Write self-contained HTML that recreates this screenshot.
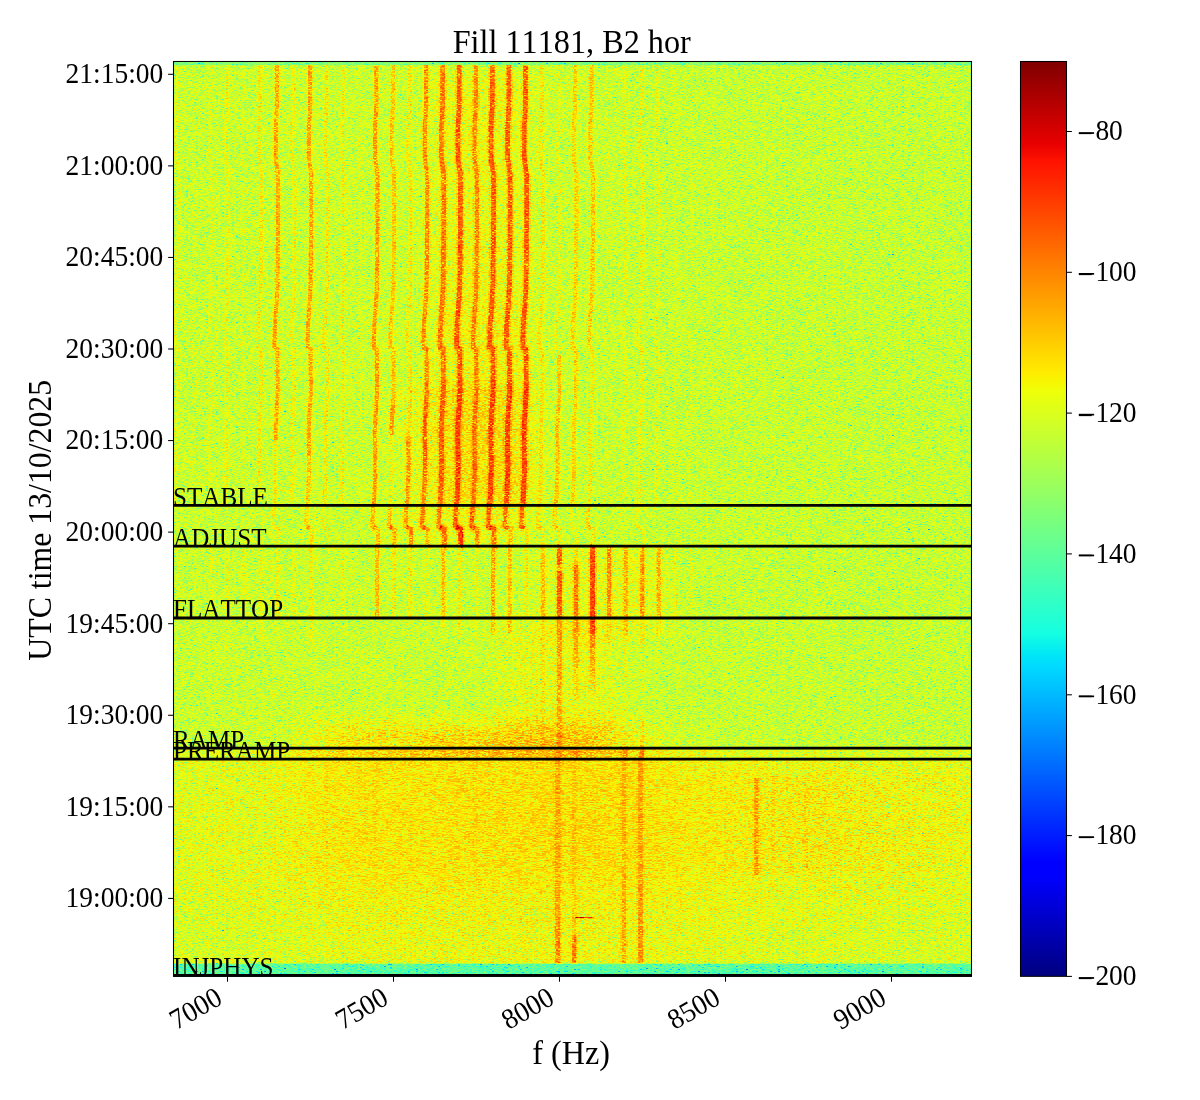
<!DOCTYPE html>
<html><head><meta charset="utf-8"><title>Fill 11181, B2 hor</title>
<style>
html,body{margin:0;padding:0;background:#fff;}
svg{display:block}
text{font-family:"Liberation Serif","DejaVu Serif",serif;fill:#000;font-kerning:none}
.t{font-size:27.78px}
.l{font-size:32.4px}
.e{font-size:24.6px}
</style></head><body>
<svg width="1200" height="1100" viewBox="0 0 1200 1100">
<defs>
<clipPath id="axclip"><rect x="173.5" y="61.5" width="798.0" height="914.8"/></clipPath>
<filter id="noise" x="172" y="60" width="802" height="918" filterUnits="userSpaceOnUse" primitiveUnits="userSpaceOnUse" color-interpolation-filters="sRGB">
<feTurbulence type="fractalNoise" baseFrequency="0.809 1.618" numOctaves="1" seed="3" result="n1"/>
<feTurbulence type="fractalNoise" baseFrequency="0.707 1.414" numOctaves="1" seed="11" result="n2"/>
<feComposite in="n1" in2="n2" operator="arithmetic" k1="0" k2="0.5" k3="0.5" k4="0" result="n"/>
<feColorMatrix in="n" type="matrix" values="1 0 0 0 0  1 0 0 0 0  1 0 0 0 0  0 0 0 0 1" result="g"/>
<feComponentTransfer in="g" result="q"><feFuncR type="table" tableValues="0.151 0.151 0.151 0.151 0.151 0.151 0.151 0.151 0.151 0.151 0.151 0.151 0.151 0.151 0.151 0.151 0.151 0.151 0.151 0.151 0.151 0.151 0.151 0.151 0.151 0.151 0.151 0.151 0.151 0.151 0.151 0.151 0.151 0.151 0.151 0.151 0.151 0.151 0.151 0.151 0.151 0.151 0.151 0.151 0.151 0.151 0.151 0.151 0.151 0.157 0.165 0.172 0.179 0.186 0.193 0.200 0.207 0.214 0.221 0.227 0.234 0.240 0.247 0.253 0.259 0.265 0.271 0.277 0.283 0.289 0.294 0.300 0.305 0.311 0.316 0.321 0.327 0.332 0.337 0.342 0.347 0.351 0.356 0.361 0.365 0.370 0.374 0.378 0.383 0.387 0.391 0.395 0.399 0.403 0.407 0.410 0.414 0.418 0.421 0.425 0.428 0.431 0.435 0.438 0.441 0.444 0.447 0.450 0.453 0.456 0.459 0.462 0.464 0.467 0.469 0.472 0.474 0.477 0.479 0.482 0.484 0.486 0.488 0.491 0.493 0.495 0.497 0.499 0.501 0.503 0.505 0.507 0.509 0.510 0.512 0.514 0.516 0.517 0.519 0.521 0.522 0.524 0.525 0.527 0.528 0.530 0.531 0.533 0.534 0.536 0.537 0.538 0.540 0.541 0.542 0.544 0.545 0.546 0.547 0.549 0.550 0.551 0.552 0.553 0.554 0.555 0.557 0.558 0.559 0.560 0.561 0.562 0.563 0.564 0.565 0.566 0.567 0.568 0.569 0.570 0.570 0.571 0.572 0.573 0.574 0.575 0.576 0.577 0.577 0.578 0.579 0.580 0.581 0.582 0.582 0.583 0.584 0.585 0.585 0.586 0.587 0.588 0.588 0.589 0.590 0.590 0.591 0.592 0.592 0.592 0.592 0.592 0.592 0.592 0.592 0.592 0.592 0.592 0.592 0.592 0.592 0.592 0.592 0.592 0.592 0.592 0.592 0.592 0.592 0.592 0.592 0.592 0.592 0.592 0.592 0.592 0.592 0.592 0.592 0.592 0.592 0.592 0.592 0.592 0.592 0.592 0.592 0.592 0.592 0.592 0.592 0.592 0.592 0.592 0.592 0.592"/><feFuncG type="table" tableValues="0.151 0.151 0.151 0.151 0.151 0.151 0.151 0.151 0.151 0.151 0.151 0.151 0.151 0.151 0.151 0.151 0.151 0.151 0.151 0.151 0.151 0.151 0.151 0.151 0.151 0.151 0.151 0.151 0.151 0.151 0.151 0.151 0.151 0.151 0.151 0.151 0.151 0.151 0.151 0.151 0.151 0.151 0.151 0.151 0.151 0.151 0.151 0.151 0.151 0.157 0.165 0.172 0.179 0.186 0.193 0.200 0.207 0.214 0.221 0.227 0.234 0.240 0.247 0.253 0.259 0.265 0.271 0.277 0.283 0.289 0.294 0.300 0.305 0.311 0.316 0.321 0.327 0.332 0.337 0.342 0.347 0.351 0.356 0.361 0.365 0.370 0.374 0.378 0.383 0.387 0.391 0.395 0.399 0.403 0.407 0.410 0.414 0.418 0.421 0.425 0.428 0.431 0.435 0.438 0.441 0.444 0.447 0.450 0.453 0.456 0.459 0.462 0.464 0.467 0.469 0.472 0.474 0.477 0.479 0.482 0.484 0.486 0.488 0.491 0.493 0.495 0.497 0.499 0.501 0.503 0.505 0.507 0.509 0.510 0.512 0.514 0.516 0.517 0.519 0.521 0.522 0.524 0.525 0.527 0.528 0.530 0.531 0.533 0.534 0.536 0.537 0.538 0.540 0.541 0.542 0.544 0.545 0.546 0.547 0.549 0.550 0.551 0.552 0.553 0.554 0.555 0.557 0.558 0.559 0.560 0.561 0.562 0.563 0.564 0.565 0.566 0.567 0.568 0.569 0.570 0.570 0.571 0.572 0.573 0.574 0.575 0.576 0.577 0.577 0.578 0.579 0.580 0.581 0.582 0.582 0.583 0.584 0.585 0.585 0.586 0.587 0.588 0.588 0.589 0.590 0.590 0.591 0.592 0.592 0.592 0.592 0.592 0.592 0.592 0.592 0.592 0.592 0.592 0.592 0.592 0.592 0.592 0.592 0.592 0.592 0.592 0.592 0.592 0.592 0.592 0.592 0.592 0.592 0.592 0.592 0.592 0.592 0.592 0.592 0.592 0.592 0.592 0.592 0.592 0.592 0.592 0.592 0.592 0.592 0.592 0.592 0.592 0.592 0.592 0.592 0.592"/><feFuncB type="table" tableValues="0.151 0.151 0.151 0.151 0.151 0.151 0.151 0.151 0.151 0.151 0.151 0.151 0.151 0.151 0.151 0.151 0.151 0.151 0.151 0.151 0.151 0.151 0.151 0.151 0.151 0.151 0.151 0.151 0.151 0.151 0.151 0.151 0.151 0.151 0.151 0.151 0.151 0.151 0.151 0.151 0.151 0.151 0.151 0.151 0.151 0.151 0.151 0.151 0.151 0.157 0.165 0.172 0.179 0.186 0.193 0.200 0.207 0.214 0.221 0.227 0.234 0.240 0.247 0.253 0.259 0.265 0.271 0.277 0.283 0.289 0.294 0.300 0.305 0.311 0.316 0.321 0.327 0.332 0.337 0.342 0.347 0.351 0.356 0.361 0.365 0.370 0.374 0.378 0.383 0.387 0.391 0.395 0.399 0.403 0.407 0.410 0.414 0.418 0.421 0.425 0.428 0.431 0.435 0.438 0.441 0.444 0.447 0.450 0.453 0.456 0.459 0.462 0.464 0.467 0.469 0.472 0.474 0.477 0.479 0.482 0.484 0.486 0.488 0.491 0.493 0.495 0.497 0.499 0.501 0.503 0.505 0.507 0.509 0.510 0.512 0.514 0.516 0.517 0.519 0.521 0.522 0.524 0.525 0.527 0.528 0.530 0.531 0.533 0.534 0.536 0.537 0.538 0.540 0.541 0.542 0.544 0.545 0.546 0.547 0.549 0.550 0.551 0.552 0.553 0.554 0.555 0.557 0.558 0.559 0.560 0.561 0.562 0.563 0.564 0.565 0.566 0.567 0.568 0.569 0.570 0.570 0.571 0.572 0.573 0.574 0.575 0.576 0.577 0.577 0.578 0.579 0.580 0.581 0.582 0.582 0.583 0.584 0.585 0.585 0.586 0.587 0.588 0.588 0.589 0.590 0.590 0.591 0.592 0.592 0.592 0.592 0.592 0.592 0.592 0.592 0.592 0.592 0.592 0.592 0.592 0.592 0.592 0.592 0.592 0.592 0.592 0.592 0.592 0.592 0.592 0.592 0.592 0.592 0.592 0.592 0.592 0.592 0.592 0.592 0.592 0.592 0.592 0.592 0.592 0.592 0.592 0.592 0.592 0.592 0.592 0.592 0.592 0.592 0.592 0.592 0.592"/></feComponentTransfer>
<feFlood x="172" y="60" width="1" height="1" flood-color="#000" result="px"/>
<feComposite in="px" in2="px" operator="over" x="172" y="60" width="2" height="1" result="cell"/>
<feTile in="cell" result="mask"/>
<feComposite in="q" in2="mask" operator="in" result="s"/>
<feOffset in="s" dx="1" dy="0" result="s2"/>
<feMerge result="qb"><feMergeNode in="s"/><feMergeNode in="s2"/></feMerge>
<feComposite in="SourceGraphic" in2="qb" operator="arithmetic" k1="0" k2="1" k3="1" k4="-0.5" result="v"/>
</filter>
<filter id="streak" x="172" y="60" width="802" height="918" filterUnits="userSpaceOnUse" primitiveUnits="userSpaceOnUse" color-interpolation-filters="sRGB">
<feTurbulence type="fractalNoise" baseFrequency="0.13 1.37" numOctaves="1" seed="5" result="n"/>
<feColorMatrix in="n" type="matrix" values="1 0 0 0 0  1 0 0 0 0  1 0 0 0 0  0 0 0 0 1" result="g"/>
<feComposite in="g" in2="SourceGraphic" operator="in"/>
</filter>
<filter id="jet" x="172" y="60" width="802" height="918" filterUnits="userSpaceOnUse" primitiveUnits="userSpaceOnUse" color-interpolation-filters="sRGB">
<feComponentTransfer>
<feFuncR type="table" tableValues="0.000 0.000 0.000 0.000 0.000 0.000 0.000 0.000 0.000 0.000 0.000 0.000 0.000 0.000 0.000 0.000 0.000 0.000 0.000 0.000 0.000 0.000 0.000 0.000 0.000 0.000 0.000 0.000 0.000 0.000 0.000 0.000 0.000 0.000 0.000 0.000 0.000 0.000 0.000 0.000 0.000 0.000 0.000 0.000 0.000 0.000 0.000 0.000 0.000 0.000 0.000 0.000 0.000 0.000 0.000 0.000 0.000 0.000 0.000 0.000 0.000 0.000 0.000 0.000 0.000 0.000 0.000 0.000 0.000 0.000 0.000 0.016 0.032 0.048 0.065 0.081 0.097 0.113 0.129 0.145 0.161 0.177 0.194 0.210 0.226 0.242 0.258 0.274 0.290 0.306 0.323 0.339 0.355 0.371 0.387 0.403 0.419 0.435 0.452 0.468 0.484 0.500 0.516 0.532 0.548 0.565 0.581 0.597 0.613 0.629 0.645 0.661 0.677 0.694 0.710 0.726 0.742 0.758 0.774 0.790 0.806 0.823 0.839 0.855 0.871 0.887 0.903 0.919 0.935 0.952 0.968 0.984 1.000 1.000 1.000 1.000 1.000 1.000 1.000 1.000 1.000 1.000 1.000 1.000 1.000 1.000 1.000 1.000 1.000 1.000 1.000 1.000 1.000 1.000 1.000 1.000 1.000 1.000 1.000 1.000 1.000 1.000 1.000 1.000 1.000 1.000 1.000 1.000 1.000 1.000 1.000 1.000 1.000 1.000 1.000 1.000 1.000 1.000 1.000 0.977 0.955 0.932 0.909 0.886 0.864 0.841 0.818 0.795 0.773 0.750 0.727 0.705 0.682 0.659 0.636 0.614 0.591 0.568 0.545 0.523 0.500"/>
<feFuncG type="table" tableValues="0.000 0.000 0.000 0.000 0.000 0.000 0.000 0.000 0.000 0.000 0.000 0.000 0.000 0.000 0.000 0.000 0.000 0.000 0.000 0.000 0.000 0.000 0.000 0.000 0.000 0.000 0.020 0.040 0.060 0.080 0.100 0.120 0.140 0.160 0.180 0.200 0.220 0.240 0.260 0.280 0.300 0.320 0.340 0.360 0.380 0.400 0.420 0.440 0.460 0.480 0.500 0.520 0.540 0.560 0.580 0.600 0.620 0.640 0.660 0.680 0.700 0.720 0.740 0.760 0.780 0.800 0.820 0.840 0.860 0.880 0.900 0.920 0.940 0.960 0.980 1.000 1.000 1.000 1.000 1.000 1.000 1.000 1.000 1.000 1.000 1.000 1.000 1.000 1.000 1.000 1.000 1.000 1.000 1.000 1.000 1.000 1.000 1.000 1.000 1.000 1.000 1.000 1.000 1.000 1.000 1.000 1.000 1.000 1.000 1.000 1.000 1.000 1.000 1.000 1.000 1.000 1.000 1.000 1.000 1.000 1.000 1.000 1.000 1.000 1.000 1.000 1.000 1.000 1.000 0.981 0.963 0.944 0.926 0.907 0.889 0.870 0.852 0.833 0.815 0.796 0.778 0.759 0.741 0.722 0.704 0.685 0.667 0.648 0.630 0.611 0.593 0.574 0.556 0.537 0.519 0.500 0.481 0.463 0.444 0.426 0.407 0.389 0.370 0.352 0.333 0.315 0.296 0.278 0.259 0.241 0.222 0.204 0.185 0.167 0.148 0.130 0.111 0.093 0.074 0.056 0.037 0.019 0.000 0.000 0.000 0.000 0.000 0.000 0.000 0.000 0.000 0.000 0.000 0.000 0.000 0.000 0.000 0.000 0.000 0.000 0.000"/>
<feFuncB type="table" tableValues="0.500 0.523 0.545 0.568 0.591 0.614 0.636 0.659 0.682 0.705 0.727 0.750 0.773 0.795 0.818 0.841 0.864 0.886 0.909 0.932 0.955 0.977 1.000 1.000 1.000 1.000 1.000 1.000 1.000 1.000 1.000 1.000 1.000 1.000 1.000 1.000 1.000 1.000 1.000 1.000 1.000 1.000 1.000 1.000 1.000 1.000 1.000 1.000 1.000 1.000 1.000 1.000 1.000 1.000 1.000 1.000 1.000 1.000 1.000 1.000 1.000 1.000 1.000 1.000 1.000 1.000 1.000 1.000 1.000 0.984 0.968 0.952 0.935 0.919 0.903 0.887 0.871 0.855 0.839 0.823 0.806 0.790 0.774 0.758 0.742 0.726 0.710 0.694 0.677 0.661 0.645 0.629 0.613 0.597 0.581 0.565 0.548 0.532 0.516 0.500 0.484 0.468 0.452 0.435 0.419 0.403 0.387 0.371 0.355 0.339 0.323 0.306 0.290 0.274 0.258 0.242 0.226 0.210 0.194 0.177 0.161 0.145 0.129 0.113 0.097 0.081 0.065 0.048 0.032 0.016 0.000 0.000 0.000 0.000 0.000 0.000 0.000 0.000 0.000 0.000 0.000 0.000 0.000 0.000 0.000 0.000 0.000 0.000 0.000 0.000 0.000 0.000 0.000 0.000 0.000 0.000 0.000 0.000 0.000 0.000 0.000 0.000 0.000 0.000 0.000 0.000 0.000 0.000 0.000 0.000 0.000 0.000 0.000 0.000 0.000 0.000 0.000 0.000 0.000 0.000 0.000 0.000 0.000 0.000 0.000 0.000 0.000 0.000 0.000 0.000 0.000 0.000 0.000 0.000 0.000 0.000 0.000 0.000 0.000 0.000 0.000"/>
</feComponentTransfer>
</filter>
<linearGradient id="cb" x1="0" y1="1" x2="0" y2="0">
<stop offset="0" stop-color="rgb(0,0,128)"/>
<stop offset="0.11" stop-color="rgb(0,0,255)"/>
<stop offset="0.125" stop-color="rgb(0,0,255)"/>
<stop offset="0.34" stop-color="rgb(0,219,255)"/>
<stop offset="0.35" stop-color="rgb(0,229,247)"/>
<stop offset="0.375" stop-color="rgb(21,255,226)"/>
<stop offset="0.64" stop-color="rgb(239,255,8)"/>
<stop offset="0.65" stop-color="rgb(247,246,0)"/>
<stop offset="0.66" stop-color="rgb(255,236,0)"/>
<stop offset="0.89" stop-color="rgb(255,19,0)"/>
<stop offset="0.91" stop-color="rgb(232,0,0)"/>
<stop offset="1" stop-color="rgb(128,0,0)"/>
</linearGradient>
</defs>
<rect width="1200" height="1100" fill="#fff"/>
<g clip-path="url(#axclip)"><g filter="url(#jet)">
<g filter="url(#noise)">
<rect x="173.5" y="61.5" width="798.0" height="914.8" fill="#989898"/>
<defs>
<linearGradient id="bgA" gradientUnits="userSpaceOnUse" x1="173.5" x2="971.5" y1="0" y2="0"><stop offset="-0.0006" stop-color="#989898"/><stop offset="0.1585" stop-color="#999999"/><stop offset="0.4342" stop-color="#999999"/><stop offset="0.5846" stop-color="#989898"/><stop offset="0.7350" stop-color="#989898"/><stop offset="0.9994" stop-color="#979797"/></linearGradient>
<linearGradient id="bgF" gradientUnits="userSpaceOnUse" x1="173.5" x2="971.5" y1="0" y2="0"><stop offset="-0.0006" stop-color="#a1a1a1"/><stop offset="0.1084" stop-color="#a4a4a4"/><stop offset="0.3089" stop-color="#a7a7a7"/><stop offset="0.5595" stop-color="#a8a8a8"/><stop offset="0.6598" stop-color="#a5a5a5"/><stop offset="0.8603" stop-color="#a4a4a4"/><stop offset="0.9994" stop-color="#a1a1a1"/></linearGradient>
<filter id="bl8" x="-20%" y="-50%" width="140%" height="200%"><feGaussianBlur stdDeviation="14 7"/></filter>
<filter id="bl20" x="-20%" y="-50%" width="140%" height="200%"><feGaussianBlur stdDeviation="30 12"/></filter>
<linearGradient id="bgE" gradientUnits="userSpaceOnUse" x1="173.5" x2="971.5" y1="0" y2="0"><stop offset="-0.0006" stop-color="#9f9f9f"/><stop offset="0.1585" stop-color="#a4a4a4"/><stop offset="0.4843" stop-color="#aaaaaa"/><stop offset="0.5971" stop-color="#a3a3a3"/><stop offset="0.7350" stop-color="#9f9f9f"/><stop offset="0.9994" stop-color="#9d9d9d"/></linearGradient>
</defs>
<rect x="173.5" y="61.5" width="798.0" height="697.5" fill="url(#bgA)"/>
<rect x="173.5" y="759.2" width="798.0" height="204.79999999999995" fill="url(#bgF)"/>
<rect x="173.5" y="748.2" width="798.0" height="11" fill="url(#bgE)"/>
<rect x="430" y="75" width="100" height="425" fill="#fff" fill-opacity="0.088" filter="url(#bl8)"/>
<rect x="400" y="385" width="135" height="155" fill="#fff" fill-opacity="0.075" filter="url(#bl8)"/>
<rect x="440" y="300" width="90" height="220" fill="#fff" fill-opacity="0.037" filter="url(#bl8)"/>
<rect x="540" y="550" width="130" height="90" fill="#fff" fill-opacity="0.075" filter="url(#bl8)"/>
<rect x="500" y="620" width="120" height="130" fill="#fff" fill-opacity="0.075" filter="url(#bl8)"/>
<rect x="310" y="724" width="340" height="30" fill="#fff" fill-opacity="0.212" filter="url(#bl20)"/>
<rect x="420" y="735" width="180" height="17" fill="#fff" fill-opacity="0.100" filter="url(#bl8)"/>
<rect x="173" y="915" width="798" height="75" fill="#000" fill-opacity="0.020" filter="url(#bl20)"/>
<rect x="720" y="885" width="251" height="105" fill="#000" fill-opacity="0.012" filter="url(#bl20)"/>
<rect x="173" y="759" width="127" height="216" fill="#000" fill-opacity="0.013" filter="url(#bl20)"/>
<rect x="300" y="762" width="400" height="118" fill="#fff" fill-opacity="0.075" filter="url(#bl20)"/>
<rect x="470" y="762" width="170" height="98" fill="#fff" fill-opacity="0.030" filter="url(#bl20)"/>
<rect x="700" y="775" width="272" height="98" fill="#fff" fill-opacity="0.022"/>
<rect x="700" y="780" width="180" height="90" fill="#fff" fill-opacity="0.030" filter="url(#bl20)"/>
<rect x="173.5" y="61.5" width="798.0" height="3.6" fill="#818181"/>
<rect x="173.5" y="963.6" width="798.0" height="13.5" fill="#757575"/>
<polyline points="177.5,64.9 177.5,107.0 176.4,127.0 176.4,158.0 178.6,175.0 178.6,224.0 178.1,285.0 177.4,300.0 175.6,326.0 175.2,342.0 175.2,347.5 178.0,349.0 178.2,391.0 176.2,428.0 176.7,469.0 175.5,500.0 175.1,505.5" fill="none" stroke="#fff" stroke-opacity="0.075" stroke-width="4.2"/>
<polyline points="194.1,64.9 194.1,107.0 193.0,127.0 193.0,158.0 195.1,175.0 195.1,224.0 194.6,285.0 193.9,300.0 192.2,326.0 191.7,342.0 191.7,347.5 194.5,349.0 194.8,391.0 192.8,428.0 193.3,469.0 192.1,500.0 191.6,505.5" fill="none" stroke="#fff" stroke-opacity="0.037" stroke-width="4.2"/>
<polyline points="210.7,64.9 210.7,107.0 209.5,127.0 209.5,158.0 211.7,175.0 211.7,224.0 211.2,285.0 210.5,300.0 208.7,326.0 208.3,342.0 208.3,347.5 211.1,349.0 211.4,391.0 209.3,428.0 209.9,469.0 208.6,500.0 208.2,505.5" fill="none" stroke="#fff" stroke-opacity="0.050" stroke-width="4.2"/>
<polyline points="227.2,64.9 227.2,107.0 226.1,127.0 226.1,158.0 228.3,175.0 228.3,224.0 227.8,285.0 227.1,300.0 225.3,326.0 224.8,342.0 224.8,347.5 227.7,349.0 227.9,391.0 225.9,428.0 226.4,469.0 225.2,500.0 224.7,505.5" fill="none" stroke="#fff" stroke-opacity="0.088" stroke-width="4.2"/>
<polyline points="243.8,64.9 243.8,107.0 242.6,127.0 242.6,158.0 244.9,175.0 244.9,224.0 244.3,285.0 243.6,300.0 241.8,326.0 241.4,342.0 241.4,347.5 244.2,349.0 244.5,391.0 242.5,428.0 243.0,469.0 241.7,500.0 241.3,505.5" fill="none" stroke="#fff" stroke-opacity="0.037" stroke-width="4.2"/>
<polyline points="260.4,64.9 260.4,107.0 259.2,127.0 259.2,158.0 261.4,175.0 261.4,224.0 260.9,285.0 260.2,300.0 258.4,326.0 257.9,342.0 257.9,347.5 260.8,349.0 261.1,391.0 259.0,428.0 259.6,469.0 258.3,500.0 257.8,505.5" fill="none" stroke="#fff" stroke-opacity="0.125" stroke-width="4.2"/>
<polyline points="276.9,64.9 276.9,107.0 275.8,127.0 275.8,158.0 278.0,175.0 278.0,224.0 277.5,285.0 276.8,300.0 274.9,326.0 274.5,342.0 274.5,347.5 277.4,349.0 277.7,391.0 275.6,428.0 275.7,440.0" fill="none" stroke="#fff" stroke-opacity="0.079" stroke-width="8.0"/>
<polyline points="276.9,64.9 276.9,107.0 275.8,127.0 275.8,158.0 278.0,175.0 278.0,224.0 277.5,285.0 276.8,300.0 274.9,326.0 274.5,342.0 274.5,347.5 277.4,349.0 277.7,391.0 275.6,428.0 275.7,440.0" fill="none" stroke="#fff" stroke-opacity="0.263" stroke-width="4.2"/>
<polyline points="275.7,440.0 276.1,469.0 274.9,500.0 274.4,505.5" fill="none" stroke="#fff" stroke-opacity="0.125" stroke-width="4.2"/>
<polyline points="293.5,64.9 293.5,107.0 292.3,127.0 292.3,158.0 294.6,175.0 294.6,224.0 294.1,285.0 293.3,300.0 291.5,326.0 291.0,342.0 291.0,347.5 294.0,349.0 294.2,391.0 292.1,428.0 292.7,469.0 291.4,500.0 290.9,505.5" fill="none" stroke="#fff" stroke-opacity="0.100" stroke-width="4.2"/>
<polyline points="310.1,64.9 310.1,107.0 308.9,127.0 308.9,158.0 311.2,175.0 311.2,224.0 310.6,285.0 309.9,300.0 308.1,326.0 307.6,342.0 307.6,347.5 310.5,349.0 310.8,391.0 308.7,428.0 309.1,455.0" fill="none" stroke="#fff" stroke-opacity="0.079" stroke-width="8.0"/>
<polyline points="310.1,64.9 310.1,107.0 308.9,127.0 308.9,158.0 311.2,175.0 311.2,224.0 310.6,285.0 309.9,300.0 308.1,326.0 307.6,342.0 307.6,347.5 310.5,349.0 310.8,391.0 308.7,428.0 309.1,455.0" fill="none" stroke="#fff" stroke-opacity="0.263" stroke-width="4.2"/>
<polyline points="309.1,455.0 309.2,469.0 308.0,500.0 307.5,505.5" fill="none" stroke="#fff" stroke-opacity="0.056" stroke-width="8.0"/>
<polyline points="309.1,455.0 309.2,469.0 308.0,500.0 307.5,505.5" fill="none" stroke="#fff" stroke-opacity="0.187" stroke-width="4.2"/>
<polyline points="326.6,64.9 326.6,107.0 325.4,127.0 325.4,158.0 327.8,175.0 327.8,224.0 327.2,285.0 326.5,300.0 324.6,326.0 324.1,342.0 324.1,347.5 327.1,349.0 327.4,391.0 325.3,428.0 325.8,469.0 324.5,500.0 324.0,505.5" fill="none" stroke="#fff" stroke-opacity="0.137" stroke-width="4.2"/>
<polyline points="343.2,64.9 343.2,107.0 342.0,127.0 342.0,158.0 344.3,175.0 344.3,224.0 343.8,285.0 343.0,300.0 341.2,326.0 340.7,342.0 340.7,347.5 343.7,349.0 344.0,391.0 341.8,428.0 342.4,469.0 341.1,500.0 340.6,505.5" fill="none" stroke="#fff" stroke-opacity="0.100" stroke-width="4.2"/>
<polyline points="359.8,64.9 359.8,107.0 358.6,127.0 358.6,158.0 360.9,175.0 360.9,224.0 360.3,285.0 359.6,300.0 357.7,326.0 357.2,342.0 357.2,347.5 360.2,349.0 360.5,391.0 358.4,428.0 358.9,469.0 357.6,500.0 357.1,505.5" fill="none" stroke="#fff" stroke-opacity="0.037" stroke-width="4.2"/>
<polyline points="376.3,64.9 376.3,107.0 375.1,127.0 375.1,158.0 377.5,175.0 377.5,224.0 376.9,285.0 376.2,300.0 374.3,326.0 373.8,342.0 373.8,347.5 376.8,349.0 377.1,391.0 374.9,428.0 375.5,469.0 374.2,500.0 373.7,505.5" fill="none" stroke="#fff" stroke-opacity="0.084" stroke-width="8.0"/>
<polyline points="376.3,64.9 376.3,107.0 375.1,127.0 375.1,158.0 377.5,175.0 377.5,224.0 376.9,285.0 376.2,300.0 374.3,326.0 373.8,342.0 373.8,347.5 376.8,349.0 377.1,391.0 374.9,428.0 375.5,469.0 374.2,500.0 373.7,505.5" fill="none" stroke="#fff" stroke-opacity="0.281" stroke-width="4.2"/>
<polyline points="392.9,64.9 392.9,107.0 391.7,127.0 391.7,158.0 394.1,175.0 394.1,224.0 393.5,285.0 392.7,300.0 390.8,326.0 390.4,342.0 390.4,347.5 393.4,349.0 393.7,391.0 392.8,405.0" fill="none" stroke="#fff" stroke-opacity="0.056" stroke-width="8.0"/>
<polyline points="392.9,64.9 392.9,107.0 391.7,127.0 391.7,158.0 394.1,175.0 394.1,224.0 393.5,285.0 392.7,300.0 390.8,326.0 390.4,342.0 390.4,347.5 393.4,349.0 393.7,391.0 392.8,405.0" fill="none" stroke="#fff" stroke-opacity="0.187" stroke-width="4.2"/>
<polyline points="392.8,405.0 391.5,428.0 391.6,435.0" fill="none" stroke="#fff" stroke-opacity="0.087" stroke-width="8.0"/>
<polyline points="392.8,405.0 391.5,428.0 391.6,435.0" fill="none" stroke="#fff" stroke-opacity="0.290" stroke-width="4.2"/>
<polyline points="391.6,435.0 392.1,469.0 390.7,500.0 390.2,505.5" fill="none" stroke="#fff" stroke-opacity="0.075" stroke-width="4.2"/>
<polyline points="409.5,64.9 409.5,107.0 408.2,127.0 408.2,158.0 410.6,175.0 410.6,224.0 410.1,285.0 409.3,300.0 407.4,326.0 406.9,342.0 406.9,347.5 410.0,349.0 410.2,391.0 408.0,428.0 408.2,436.0" fill="none" stroke="#fff" stroke-opacity="0.125" stroke-width="4.2"/>
<polyline points="408.2,436.0 408.6,469.0 407.3,500.0 406.8,505.5" fill="none" stroke="#fff" stroke-opacity="0.082" stroke-width="8.0"/>
<polyline points="408.2,436.0 408.6,469.0 407.3,500.0 406.8,505.5" fill="none" stroke="#fff" stroke-opacity="0.272" stroke-width="4.2"/>
<polyline points="426.1,64.9 426.1,107.0 424.8,127.0 424.8,158.0 427.2,175.0 427.2,224.0 426.6,285.0 425.9,300.0 423.9,326.0 423.5,342.0 423.5,347.5 426.5,349.0 426.8,391.0 426.3,400.0" fill="none" stroke="#fff" stroke-opacity="0.092" stroke-width="8.0"/>
<polyline points="426.1,64.9 426.1,107.0 424.8,127.0 424.8,158.0 427.2,175.0 427.2,224.0 426.6,285.0 425.9,300.0 423.9,326.0 423.5,342.0 423.5,347.5 426.5,349.0 426.8,391.0 426.3,400.0" fill="none" stroke="#fff" stroke-opacity="0.308" stroke-width="4.2"/>
<polyline points="426.3,400.0 424.6,428.0 425.2,469.0 425.1,470.0" fill="none" stroke="#fff" stroke-opacity="0.114" stroke-width="8.0"/>
<polyline points="426.3,400.0 424.6,428.0 425.2,469.0 425.1,470.0" fill="none" stroke="#fff" stroke-opacity="0.380" stroke-width="4.2"/>
<polyline points="425.1,470.0 423.8,500.0 423.3,505.5" fill="none" stroke="#fff" stroke-opacity="0.092" stroke-width="8.0"/>
<polyline points="425.1,470.0 423.8,500.0 423.3,505.5" fill="none" stroke="#fff" stroke-opacity="0.308" stroke-width="4.2"/>
<polyline points="442.6,64.9 442.6,107.0 441.4,127.0 441.4,158.0 443.8,175.0 443.8,224.0 443.2,285.0 442.4,300.0 440.5,326.0 440.0,342.0 440.0,347.5 443.1,349.0 443.3,380.0" fill="none" stroke="#fff" stroke-opacity="0.098" stroke-width="8.6"/>
<polyline points="442.6,64.9 442.6,107.0 441.4,127.0 441.4,158.0 443.8,175.0 443.8,224.0 443.2,285.0 442.4,300.0 440.5,326.0 440.0,342.0 440.0,347.5 443.1,349.0 443.3,380.0" fill="none" stroke="#fff" stroke-opacity="0.326" stroke-width="4.8"/>
<polyline points="443.3,380.0 443.4,391.0 441.2,428.0 441.7,469.0 440.4,500.0 439.9,505.5" fill="none" stroke="#fff" stroke-opacity="0.106" stroke-width="8.8"/>
<polyline points="443.3,380.0 443.4,391.0 441.2,428.0 441.7,469.0 440.4,500.0 439.9,505.5" fill="none" stroke="#fff" stroke-opacity="0.353" stroke-width="5.0"/>
<polyline points="459.2,64.9 459.2,107.0 457.9,127.0 457.9,158.0 460.4,175.0 460.4,224.0 459.8,285.0 459.0,300.0 457.0,326.0 456.6,342.0 456.6,347.5 459.7,349.0 459.9,380.0" fill="none" stroke="#fff" stroke-opacity="0.122" stroke-width="8.6"/>
<polyline points="459.2,64.9 459.2,107.0 457.9,127.0 457.9,158.0 460.4,175.0 460.4,224.0 459.8,285.0 459.0,300.0 457.0,326.0 456.6,342.0 456.6,347.5 459.7,349.0 459.9,380.0" fill="none" stroke="#fff" stroke-opacity="0.407" stroke-width="4.8"/>
<polyline points="459.9,380.0 460.0,391.0 457.7,428.0 458.3,469.0 456.9,500.0 456.4,505.5" fill="none" stroke="#fff" stroke-opacity="0.130" stroke-width="8.8"/>
<polyline points="459.9,380.0 460.0,391.0 457.7,428.0 458.3,469.0 456.9,500.0 456.4,505.5" fill="none" stroke="#fff" stroke-opacity="0.434" stroke-width="5.0"/>
<polyline points="475.8,64.9 475.8,107.0 474.5,127.0 474.5,158.0 476.9,175.0 476.9,224.0 476.3,285.0 475.6,300.0 473.6,326.0 473.1,342.0 473.1,347.5 476.2,349.0 476.5,391.0 474.3,428.0 474.9,469.0 473.5,500.0 473.0,505.5" fill="none" stroke="#fff" stroke-opacity="0.087" stroke-width="8.0"/>
<polyline points="475.8,64.9 475.8,107.0 474.5,127.0 474.5,158.0 476.9,175.0 476.9,224.0 476.3,285.0 475.6,300.0 473.6,326.0 473.1,342.0 473.1,347.5 476.2,349.0 476.5,391.0 474.3,428.0 474.9,469.0 473.5,500.0 473.0,505.5" fill="none" stroke="#fff" stroke-opacity="0.290" stroke-width="4.2"/>
<polyline points="492.3,64.9 492.3,107.0 491.0,127.0 491.0,158.0 493.5,175.0 493.5,224.0 492.9,285.0 492.1,300.0 490.2,326.0 489.7,342.0 489.7,347.5 492.8,349.0 493.0,380.0" fill="none" stroke="#fff" stroke-opacity="0.122" stroke-width="8.6"/>
<polyline points="492.3,64.9 492.3,107.0 491.0,127.0 491.0,158.0 493.5,175.0 493.5,224.0 492.9,285.0 492.1,300.0 490.2,326.0 489.7,342.0 489.7,347.5 492.8,349.0 493.0,380.0" fill="none" stroke="#fff" stroke-opacity="0.407" stroke-width="4.8"/>
<polyline points="493.0,380.0 493.1,391.0 490.8,428.0 491.4,469.0 490.1,500.0 489.5,505.5" fill="none" stroke="#fff" stroke-opacity="0.130" stroke-width="8.8"/>
<polyline points="493.0,380.0 493.1,391.0 490.8,428.0 491.4,469.0 490.1,500.0 489.5,505.5" fill="none" stroke="#fff" stroke-opacity="0.434" stroke-width="5.0"/>
<polyline points="508.9,64.9 508.9,107.0 507.6,127.0 507.6,158.0 510.1,175.0 510.1,224.0 509.5,285.0 508.7,300.0 506.7,326.0 506.2,342.0 506.2,347.5 509.4,349.0 509.6,380.0" fill="none" stroke="#fff" stroke-opacity="0.122" stroke-width="8.6"/>
<polyline points="508.9,64.9 508.9,107.0 507.6,127.0 507.6,158.0 510.1,175.0 510.1,224.0 509.5,285.0 508.7,300.0 506.7,326.0 506.2,342.0 506.2,347.5 509.4,349.0 509.6,380.0" fill="none" stroke="#fff" stroke-opacity="0.407" stroke-width="4.8"/>
<polyline points="509.6,380.0 509.7,391.0 507.4,428.0 508.0,469.0 506.6,500.0 506.1,505.5" fill="none" stroke="#fff" stroke-opacity="0.130" stroke-width="8.8"/>
<polyline points="509.6,380.0 509.7,391.0 507.4,428.0 508.0,469.0 506.6,500.0 506.1,505.5" fill="none" stroke="#fff" stroke-opacity="0.434" stroke-width="5.0"/>
<polyline points="525.5,64.9 525.5,107.0 524.2,127.0 524.2,158.0 526.7,175.0 526.7,224.0 526.1,285.0 525.3,300.0 523.3,326.0 522.8,342.0 522.8,347.5 526.0,349.0 526.2,380.0" fill="none" stroke="#fff" stroke-opacity="0.127" stroke-width="8.6"/>
<polyline points="525.5,64.9 525.5,107.0 524.2,127.0 524.2,158.0 526.7,175.0 526.7,224.0 526.1,285.0 525.3,300.0 523.3,326.0 522.8,342.0 522.8,347.5 526.0,349.0 526.2,380.0" fill="none" stroke="#fff" stroke-opacity="0.425" stroke-width="4.8"/>
<polyline points="526.2,380.0 526.3,391.0 524.0,428.0 524.6,469.0 523.2,500.0 522.6,505.5" fill="none" stroke="#fff" stroke-opacity="0.136" stroke-width="8.8"/>
<polyline points="526.2,380.0 526.3,391.0 524.0,428.0 524.6,469.0 523.2,500.0 522.6,505.5" fill="none" stroke="#fff" stroke-opacity="0.452" stroke-width="5.0"/>
<polyline points="542.0,64.9 542.0,107.0 540.7,127.0 540.7,158.0 543.2,175.0 543.2,224.0 542.6,285.0 541.8,300.0 539.8,326.0 539.3,342.0 539.3,347.5 542.5,349.0 542.8,391.0 540.5,428.0 541.1,469.0 539.7,500.0 539.2,505.5" fill="none" stroke="#fff" stroke-opacity="0.125" stroke-width="4.2"/>
<polyline points="558.6,64.9 558.6,107.0 557.3,127.0 557.3,158.0 559.8,175.0 559.8,224.0 559.2,285.0 558.4,300.0 556.4,326.0 555.9,342.0 555.9,347.5 559.1,349.0 559.1,355.0" fill="none" stroke="#fff" stroke-opacity="0.088" stroke-width="4.2"/>
<polyline points="559.1,355.0 559.4,391.0 557.1,428.0 557.7,469.0 556.3,500.0 555.7,505.5" fill="none" stroke="#fff" stroke-opacity="0.063" stroke-width="8.0"/>
<polyline points="559.1,355.0 559.4,391.0 557.1,428.0 557.7,469.0 556.3,500.0 555.7,505.5" fill="none" stroke="#fff" stroke-opacity="0.209" stroke-width="4.2"/>
<polyline points="575.2,64.9 575.2,107.0 573.8,127.0 573.8,158.0 576.4,175.0 576.4,224.0 575.8,285.0 575.0,300.0 572.9,326.0 572.4,342.0 572.4,347.5 575.7,349.0 576.0,391.0 573.6,428.0 574.2,469.0 572.8,500.0 572.3,505.5" fill="none" stroke="#fff" stroke-opacity="0.049" stroke-width="8.0"/>
<polyline points="575.2,64.9 575.2,107.0 573.8,127.0 573.8,158.0 576.4,175.0 576.4,224.0 575.8,285.0 575.0,300.0 572.9,326.0 572.4,342.0 572.4,347.5 575.7,349.0 576.0,391.0 573.6,428.0 574.2,469.0 572.8,500.0 572.3,505.5" fill="none" stroke="#fff" stroke-opacity="0.163" stroke-width="4.2"/>
<polyline points="591.7,64.9 591.7,107.0 590.4,127.0 590.4,158.0 593.0,175.0 593.0,224.0 592.3,285.0 591.5,300.0 589.5,326.0 589.0,342.0" fill="none" stroke="#fff" stroke-opacity="0.056" stroke-width="8.0"/>
<polyline points="591.7,64.9 591.7,107.0 590.4,127.0 590.4,158.0 593.0,175.0 593.0,224.0 592.3,285.0 591.5,300.0 589.5,326.0 589.0,342.0" fill="none" stroke="#fff" stroke-opacity="0.187" stroke-width="4.2"/>
<polyline points="589.0,342.0 589.0,347.5 592.2,349.0 592.6,391.0 590.2,428.0 590.8,469.0 589.4,500.0 588.8,505.5" fill="none" stroke="#fff" stroke-opacity="0.125" stroke-width="4.2"/>
<polyline points="608.3,64.9 608.3,107.0 607.0,127.0 607.0,158.0 609.5,175.0 609.5,224.0 608.9,285.0 608.1,300.0 606.0,326.0 605.5,342.0 605.5,347.5 608.8,349.0 609.1,391.0 606.8,428.0 607.4,469.0 605.9,500.0 605.4,505.5" fill="none" stroke="#fff" stroke-opacity="0.030" stroke-width="4.2"/>
<polyline points="624.9,64.9 624.9,107.0 623.5,127.0 623.5,158.0 626.1,175.0 626.1,224.0 625.5,285.0 624.7,300.0 622.6,326.0 622.1,342.0 622.1,347.5 625.4,349.0 625.7,391.0 623.3,428.0 623.9,469.0 622.5,500.0 621.9,505.5" fill="none" stroke="#fff" stroke-opacity="0.075" stroke-width="4.2"/>
<polyline points="641.4,64.9 641.4,107.0 640.1,127.0 640.1,158.0 642.7,175.0 642.7,224.0 642.1,285.0 641.2,300.0 639.1,326.0 638.6,342.0 638.6,347.5 642.0,349.0 642.3,391.0 639.9,428.0 640.5,469.0 639.0,500.0 638.5,505.5" fill="none" stroke="#fff" stroke-opacity="0.100" stroke-width="4.2"/>
<polyline points="658.0,64.9 658.0,107.0 656.6,127.0 656.6,158.0 659.3,175.0 659.3,224.0 658.6,285.0 657.8,300.0 655.7,326.0 655.2,342.0 655.2,347.5 658.5,349.0 658.8,391.0 656.4,428.0 657.1,469.0 655.6,500.0 655.0,505.5" fill="none" stroke="#fff" stroke-opacity="0.075" stroke-width="4.2"/>
<polyline points="674.6,64.9 674.6,107.0 673.2,127.0 673.2,158.0 675.8,175.0 675.8,224.0 675.2,285.0 674.4,300.0 672.2,326.0 671.7,342.0 671.7,347.5 675.1,349.0 675.4,391.0 673.0,428.0 673.6,469.0 672.1,500.0 671.6,505.5" fill="none" stroke="#fff" stroke-opacity="0.030" stroke-width="4.2"/>
<polyline points="691.1,64.9 691.1,107.0 689.8,127.0 689.8,158.0 692.4,175.0 692.4,224.0 691.8,285.0 690.9,300.0 688.8,326.0 688.3,342.0 688.3,347.5 691.7,349.0 692.0,391.0 689.5,428.0 690.2,469.0 688.7,500.0 688.1,505.5" fill="none" stroke="#fff" stroke-opacity="0.030" stroke-width="4.2"/>
<polyline points="274.4,505.5 274.3,506.0 274.0,507.0 273.4,520.0 273.0,526.5 276.2,528.0" fill="none" stroke="#fff" stroke-opacity="0.100" stroke-width="4.2"/>
<polyline points="307.5,505.5 307.4,506.0 307.0,507.0 306.5,520.0 306.1,526.5 309.3,528.0" fill="none" stroke="#fff" stroke-opacity="0.045" stroke-width="8.0"/>
<polyline points="307.5,505.5 307.4,506.0 307.0,507.0 306.5,520.0 306.1,526.5 309.3,528.0" fill="none" stroke="#fff" stroke-opacity="0.150" stroke-width="4.2"/>
<polyline points="324.0,505.5 324.0,506.0 323.6,507.0 323.0,520.0 322.7,526.5 325.9,528.0" fill="none" stroke="#fff" stroke-opacity="0.075" stroke-width="4.2"/>
<polyline points="373.7,505.5 373.6,506.0 373.2,507.0 372.7,520.0 372.3,526.5 375.6,528.0" fill="none" stroke="#fff" stroke-opacity="0.065" stroke-width="8.0"/>
<polyline points="373.7,505.5 373.6,506.0 373.2,507.0 372.7,520.0 372.3,526.5 375.6,528.0" fill="none" stroke="#fff" stroke-opacity="0.218" stroke-width="4.2"/>
<polyline points="390.2,505.5 390.2,506.0 389.8,507.0 389.2,520.0 388.8,526.5 392.1,528.0" fill="none" stroke="#fff" stroke-opacity="0.060" stroke-width="8.0"/>
<polyline points="390.2,505.5 390.2,506.0 389.8,507.0 389.2,520.0 388.8,526.5 392.1,528.0" fill="none" stroke="#fff" stroke-opacity="0.200" stroke-width="4.2"/>
<polyline points="406.8,505.5 406.7,506.0 406.3,507.0 405.8,520.0 405.4,526.5 408.7,528.0" fill="none" stroke="#fff" stroke-opacity="0.065" stroke-width="8.0"/>
<polyline points="406.8,505.5 406.7,506.0 406.3,507.0 405.8,520.0 405.4,526.5 408.7,528.0" fill="none" stroke="#fff" stroke-opacity="0.218" stroke-width="4.2"/>
<polyline points="423.3,505.5 423.3,506.0 422.9,507.0 422.3,520.0 421.9,526.5 425.3,528.0" fill="none" stroke="#fff" stroke-opacity="0.092" stroke-width="8.0"/>
<polyline points="423.3,505.5 423.3,506.0 422.9,507.0 422.3,520.0 421.9,526.5 425.3,528.0" fill="none" stroke="#fff" stroke-opacity="0.308" stroke-width="4.2"/>
<polyline points="439.9,505.5 439.8,506.0 439.4,507.0 438.8,520.0 438.5,526.5 441.8,528.0" fill="none" stroke="#fff" stroke-opacity="0.092" stroke-width="8.0"/>
<polyline points="439.9,505.5 439.8,506.0 439.4,507.0 438.8,520.0 438.5,526.5 441.8,528.0" fill="none" stroke="#fff" stroke-opacity="0.308" stroke-width="4.2"/>
<polyline points="456.4,505.5 456.4,506.0 456.0,507.0 455.4,520.0 455.0,526.5 458.4,528.0" fill="none" stroke="#fff" stroke-opacity="0.119" stroke-width="8.0"/>
<polyline points="456.4,505.5 456.4,506.0 456.0,507.0 455.4,520.0 455.0,526.5 458.4,528.0" fill="none" stroke="#fff" stroke-opacity="0.398" stroke-width="4.2"/>
<polyline points="473.0,505.5 472.9,506.0 472.5,507.0 471.9,520.0 471.5,526.5 475.0,528.0" fill="none" stroke="#fff" stroke-opacity="0.125" stroke-width="8.0"/>
<polyline points="473.0,505.5 472.9,506.0 472.5,507.0 471.9,520.0 471.5,526.5 475.0,528.0" fill="none" stroke="#fff" stroke-opacity="0.416" stroke-width="4.2"/>
<polyline points="489.5,505.5 489.5,506.0 489.1,507.0 488.5,520.0 488.1,526.5 491.5,528.0" fill="none" stroke="#fff" stroke-opacity="0.109" stroke-width="8.0"/>
<polyline points="489.5,505.5 489.5,506.0 489.1,507.0 488.5,520.0 488.1,526.5 491.5,528.0" fill="none" stroke="#fff" stroke-opacity="0.362" stroke-width="4.2"/>
<polyline points="506.1,505.5 506.0,506.0 505.6,507.0 505.0,520.0 504.6,526.5 508.1,528.0" fill="none" stroke="#fff" stroke-opacity="0.092" stroke-width="8.0"/>
<polyline points="506.1,505.5 506.0,506.0 505.6,507.0 505.0,520.0 504.6,526.5 508.1,528.0" fill="none" stroke="#fff" stroke-opacity="0.308" stroke-width="4.2"/>
<polyline points="522.6,505.5 522.6,506.0 522.2,507.0 521.6,520.0 521.2,526.5 524.6,528.0" fill="none" stroke="#fff" stroke-opacity="0.109" stroke-width="8.0"/>
<polyline points="522.6,505.5 522.6,506.0 522.2,507.0 521.6,520.0 521.2,526.5 524.6,528.0" fill="none" stroke="#fff" stroke-opacity="0.362" stroke-width="4.2"/>
<polyline points="539.2,505.5 539.1,506.0 538.7,507.0 538.1,520.0 537.7,526.5 541.2,528.0" fill="none" stroke="#fff" stroke-opacity="0.125" stroke-width="4.2"/>
<polyline points="555.7,505.5 555.7,506.0 555.3,507.0 554.6,520.0 554.2,526.5 557.8,528.0" fill="none" stroke="#fff" stroke-opacity="0.045" stroke-width="8.0"/>
<polyline points="555.7,505.5 555.7,506.0 555.3,507.0 554.6,520.0 554.2,526.5 557.8,528.0" fill="none" stroke="#fff" stroke-opacity="0.150" stroke-width="4.2"/>
<polyline points="572.3,505.5 572.2,506.0 571.8,507.0 571.2,520.0 570.8,526.5 574.3,528.0" fill="none" stroke="#fff" stroke-opacity="0.075" stroke-width="4.2"/>
<polyline points="588.8,505.5 588.8,506.0 588.3,507.0 587.7,520.0 587.3,526.5 590.9,528.0" fill="none" stroke="#fff" stroke-opacity="0.045" stroke-width="8.0"/>
<polyline points="588.8,505.5 588.8,506.0 588.3,507.0 587.7,520.0 587.3,526.5 590.9,528.0" fill="none" stroke="#fff" stroke-opacity="0.150" stroke-width="4.2"/>
<polyline points="621.9,505.5 621.9,506.0 621.4,507.0 620.8,520.0 620.4,526.5 624.0,528.0" fill="none" stroke="#fff" stroke-opacity="0.050" stroke-width="4.2"/>
<polyline points="638.5,505.5 638.4,506.0 638.0,507.0 637.4,520.0 636.9,526.5 640.6,528.0" fill="none" stroke="#fff" stroke-opacity="0.075" stroke-width="4.2"/>
<polyline points="274.1,527.0 278.3,529.0 278.5,546.0 277.9,546.2" fill="none" stroke="#fff" stroke-opacity="0.100" stroke-width="4.2"/>
<polyline points="307.2,527.0 311.5,529.0 311.6,546.0 311.1,546.2" fill="none" stroke="#fff" stroke-opacity="0.045" stroke-width="8.0"/>
<polyline points="307.2,527.0 311.5,529.0 311.6,546.0 311.1,546.2" fill="none" stroke="#fff" stroke-opacity="0.150" stroke-width="4.2"/>
<polyline points="323.7,527.0 328.0,529.0 328.2,546.0 327.7,546.2" fill="none" stroke="#fff" stroke-opacity="0.075" stroke-width="4.2"/>
<polyline points="373.4,527.0 377.8,529.0 378.0,546.0 377.4,546.2" fill="none" stroke="#fff" stroke-opacity="0.065" stroke-width="8.0"/>
<polyline points="373.4,527.0 377.8,529.0 378.0,546.0 377.4,546.2" fill="none" stroke="#fff" stroke-opacity="0.218" stroke-width="4.2"/>
<polyline points="389.9,527.0 394.3,529.0 394.5,546.0 394.0,546.2" fill="none" stroke="#fff" stroke-opacity="0.065" stroke-width="8.0"/>
<polyline points="389.9,527.0 394.3,529.0 394.5,546.0 394.0,546.2" fill="none" stroke="#fff" stroke-opacity="0.218" stroke-width="4.2"/>
<polyline points="406.5,527.0 410.9,529.0 411.1,546.0 410.5,546.2" fill="none" stroke="#fff" stroke-opacity="0.087" stroke-width="8.0"/>
<polyline points="406.5,527.0 410.9,529.0 411.1,546.0 410.5,546.2" fill="none" stroke="#fff" stroke-opacity="0.290" stroke-width="4.2"/>
<polyline points="423.0,527.0 427.5,529.0 427.7,546.0 427.1,546.2" fill="none" stroke="#fff" stroke-opacity="0.065" stroke-width="8.0"/>
<polyline points="423.0,527.0 427.5,529.0 427.7,546.0 427.1,546.2" fill="none" stroke="#fff" stroke-opacity="0.218" stroke-width="4.2"/>
<polyline points="439.6,527.0 444.1,529.0 444.3,546.0 443.7,546.2" fill="none" stroke="#fff" stroke-opacity="0.109" stroke-width="8.8"/>
<polyline points="439.6,527.0 444.1,529.0 444.3,546.0 443.7,546.2" fill="none" stroke="#fff" stroke-opacity="0.362" stroke-width="5.0"/>
<polyline points="456.1,527.0 460.6,529.0 460.8,546.0 460.3,546.2" fill="none" stroke="#fff" stroke-opacity="0.163" stroke-width="8.8"/>
<polyline points="456.1,527.0 460.6,529.0 460.8,546.0 460.3,546.2" fill="none" stroke="#fff" stroke-opacity="0.542" stroke-width="5.0"/>
<polyline points="472.7,527.0 477.2,529.0 477.4,546.0 476.8,546.2" fill="none" stroke="#fff" stroke-opacity="0.087" stroke-width="8.0"/>
<polyline points="472.7,527.0 477.2,529.0 477.4,546.0 476.8,546.2" fill="none" stroke="#fff" stroke-opacity="0.290" stroke-width="4.2"/>
<polyline points="489.2,527.0 493.8,529.0 494.0,546.0 493.4,546.2" fill="none" stroke="#fff" stroke-opacity="0.109" stroke-width="8.8"/>
<polyline points="489.2,527.0 493.8,529.0 494.0,546.0 493.4,546.2" fill="none" stroke="#fff" stroke-opacity="0.362" stroke-width="5.0"/>
<polyline points="505.8,527.0 510.4,529.0 510.6,546.0 510.0,546.2" fill="none" stroke="#fff" stroke-opacity="0.060" stroke-width="8.0"/>
<polyline points="505.8,527.0 510.4,529.0 510.6,546.0 510.0,546.2" fill="none" stroke="#fff" stroke-opacity="0.200" stroke-width="4.2"/>
<polyline points="522.3,527.0 527.0,529.0 527.2,546.0 526.6,546.2" fill="none" stroke="#fff" stroke-opacity="0.125" stroke-width="4.2"/>
<polyline points="538.9,527.0 543.5,529.0 543.7,546.0 543.1,546.2" fill="none" stroke="#fff" stroke-opacity="0.100" stroke-width="4.2"/>
<polyline points="555.4,527.0 560.1,529.0 560.3,546.0 559.7,546.2" fill="none" stroke="#fff" stroke-opacity="0.125" stroke-width="4.2"/>
<polyline points="572.0,527.0 576.7,529.0 576.9,546.0 576.3,546.2" fill="none" stroke="#fff" stroke-opacity="0.075" stroke-width="4.2"/>
<polyline points="588.5,527.0 593.3,529.0 593.5,546.0 592.9,546.2" fill="none" stroke="#fff" stroke-opacity="0.125" stroke-width="4.2"/>
<polyline points="638.2,527.0 643.0,529.0 643.2,546.0 642.6,546.2" fill="none" stroke="#fff" stroke-opacity="0.075" stroke-width="4.2"/>
<polyline points="178.5,546.2 178.2,546.3 178.2,618.0" fill="none" stroke="#fff" stroke-opacity="0.050" stroke-width="4.2"/>
<polyline points="195.1,546.2 194.8,546.3 194.8,618.0" fill="none" stroke="#fff" stroke-opacity="0.037" stroke-width="4.2"/>
<polyline points="211.6,546.2 211.4,546.3 211.4,618.0" fill="none" stroke="#fff" stroke-opacity="0.050" stroke-width="4.2"/>
<polyline points="228.2,546.2 227.9,546.3 227.9,618.0" fill="none" stroke="#fff" stroke-opacity="0.088" stroke-width="4.2"/>
<polyline points="244.8,546.2 244.5,546.3 244.5,618.0" fill="none" stroke="#fff" stroke-opacity="0.088" stroke-width="4.2"/>
<polyline points="261.4,546.2 261.1,546.3 261.1,618.0" fill="none" stroke="#fff" stroke-opacity="0.062" stroke-width="4.2"/>
<polyline points="277.9,546.2 277.7,546.3 277.7,618.0" fill="none" stroke="#fff" stroke-opacity="0.100" stroke-width="4.2"/>
<polyline points="294.5,546.2 294.2,546.3 294.2,618.0" fill="none" stroke="#fff" stroke-opacity="0.062" stroke-width="4.2"/>
<polyline points="311.1,546.2 310.8,546.3 310.8,618.0" fill="none" stroke="#fff" stroke-opacity="0.125" stroke-width="4.2"/>
<polyline points="344.2,546.2 344.0,546.3 344.0,618.0" fill="none" stroke="#fff" stroke-opacity="0.062" stroke-width="4.2"/>
<polyline points="377.4,546.2 377.1,546.3 377.1,618.0" fill="none" stroke="#fff" stroke-opacity="0.060" stroke-width="8.0"/>
<polyline points="377.4,546.2 377.1,546.3 377.1,618.0" fill="none" stroke="#fff" stroke-opacity="0.200" stroke-width="4.2"/>
<polyline points="394.0,546.2 393.7,546.3 393.7,618.0" fill="none" stroke="#fff" stroke-opacity="0.125" stroke-width="4.2"/>
<polyline points="410.5,546.2 410.2,546.3 410.2,618.0" fill="none" stroke="#fff" stroke-opacity="0.125" stroke-width="4.2"/>
<polyline points="427.1,546.2 426.8,546.3 426.8,618.0" fill="none" stroke="#fff" stroke-opacity="0.075" stroke-width="4.2"/>
<polyline points="443.7,546.2 443.4,546.3 443.4,618.0" fill="none" stroke="#fff" stroke-opacity="0.060" stroke-width="8.0"/>
<polyline points="443.7,546.2 443.4,546.3 443.4,618.0" fill="none" stroke="#fff" stroke-opacity="0.200" stroke-width="4.2"/>
<polyline points="460.3,546.2 460.0,546.3 460.0,618.0" fill="none" stroke="#fff" stroke-opacity="0.125" stroke-width="4.2"/>
<polyline points="476.8,546.2 476.5,546.3 476.5,618.0" fill="none" stroke="#fff" stroke-opacity="0.088" stroke-width="4.2"/>
<polyline points="493.4,546.2 493.1,546.3 493.1,618.0" fill="none" stroke="#fff" stroke-opacity="0.082" stroke-width="8.0"/>
<polyline points="493.4,546.2 493.1,546.3 493.1,618.0" fill="none" stroke="#fff" stroke-opacity="0.272" stroke-width="4.2"/>
<polyline points="510.0,546.2 509.7,546.3 509.7,618.0" fill="none" stroke="#fff" stroke-opacity="0.060" stroke-width="8.0"/>
<polyline points="510.0,546.2 509.7,546.3 509.7,618.0" fill="none" stroke="#fff" stroke-opacity="0.200" stroke-width="4.2"/>
<polyline points="526.6,546.2 526.3,546.3 526.3,618.0" fill="none" stroke="#fff" stroke-opacity="0.100" stroke-width="4.2"/>
<polyline points="543.1,546.2 542.8,546.3 542.8,618.0" fill="none" stroke="#fff" stroke-opacity="0.053" stroke-width="8.0"/>
<polyline points="543.1,546.2 542.8,546.3 542.8,618.0" fill="none" stroke="#fff" stroke-opacity="0.175" stroke-width="4.2"/>
<polyline points="559.7,546.2 559.4,546.3 559.4,565.0" fill="none" stroke="#fff" stroke-opacity="0.125" stroke-width="8.8"/>
<polyline points="559.7,546.2 559.4,546.3 559.4,565.0" fill="none" stroke="#fff" stroke-opacity="0.416" stroke-width="5.0"/>
<polyline points="559.4,565.0 559.4,571.0" fill="none" stroke="#fff" stroke-opacity="0.060" stroke-width="8.0"/>
<polyline points="559.4,565.0 559.4,571.0" fill="none" stroke="#fff" stroke-opacity="0.200" stroke-width="4.2"/>
<polyline points="559.4,571.0 559.4,618.0" fill="none" stroke="#fff" stroke-opacity="0.125" stroke-width="8.8"/>
<polyline points="559.4,571.0 559.4,618.0" fill="none" stroke="#fff" stroke-opacity="0.416" stroke-width="5.0"/>
<polyline points="576.3,546.2 576.0,546.3 576.0,565.0" fill="none" stroke="#fff" stroke-opacity="0.125" stroke-width="4.2"/>
<polyline points="576.0,565.0 576.0,618.0" fill="none" stroke="#fff" stroke-opacity="0.098" stroke-width="8.399999999999999"/>
<polyline points="576.0,565.0 576.0,618.0" fill="none" stroke="#fff" stroke-opacity="0.326" stroke-width="4.6"/>
<polyline points="592.9,546.2 592.6,546.3 592.6,618.0" fill="none" stroke="#fff" stroke-opacity="0.146" stroke-width="8.8"/>
<polyline points="592.9,546.2 592.6,546.3 592.6,618.0" fill="none" stroke="#fff" stroke-opacity="0.488" stroke-width="5.0"/>
<polyline points="609.4,546.2 609.1,546.3 609.1,618.0" fill="none" stroke="#fff" stroke-opacity="0.087" stroke-width="8.0"/>
<polyline points="609.4,546.2 609.1,546.3 609.1,618.0" fill="none" stroke="#fff" stroke-opacity="0.290" stroke-width="4.2"/>
<polyline points="626.0,546.2 625.7,546.3 625.7,618.0" fill="none" stroke="#fff" stroke-opacity="0.060" stroke-width="8.0"/>
<polyline points="626.0,546.2 625.7,546.3 625.7,618.0" fill="none" stroke="#fff" stroke-opacity="0.200" stroke-width="4.2"/>
<polyline points="642.6,546.2 642.3,546.3 642.3,618.0" fill="none" stroke="#fff" stroke-opacity="0.076" stroke-width="8.0"/>
<polyline points="642.6,546.2 642.3,546.3 642.3,618.0" fill="none" stroke="#fff" stroke-opacity="0.254" stroke-width="4.2"/>
<polyline points="659.2,546.2 658.8,546.3 658.8,618.0" fill="none" stroke="#fff" stroke-opacity="0.060" stroke-width="8.0"/>
<polyline points="659.2,546.2 658.8,546.3 658.8,618.0" fill="none" stroke="#fff" stroke-opacity="0.200" stroke-width="4.2"/>
<polyline points="675.7,546.2 675.4,546.3 675.4,618.0" fill="none" stroke="#fff" stroke-opacity="0.075" stroke-width="4.2"/>
<polyline points="692.3,546.2 692.0,546.3 692.0,618.0" fill="none" stroke="#fff" stroke-opacity="0.050" stroke-width="4.2"/>
<polyline points="559.4,618.0 559.4,650.8" fill="none" stroke="#fff" stroke-opacity="0.071" stroke-width="8.6"/>
<polyline points="559.4,618.0 559.4,650.8" fill="none" stroke="#fff" stroke-opacity="0.237" stroke-width="4.8"/>
<polyline points="559.4,650.5 559.3,683.4" fill="none" stroke="#fff" stroke-opacity="0.066" stroke-width="8.6"/>
<polyline points="559.4,650.5 559.3,683.4" fill="none" stroke="#fff" stroke-opacity="0.221" stroke-width="4.8"/>
<polyline points="559.3,683.1 559.3,716.0" fill="none" stroke="#fff" stroke-opacity="0.062" stroke-width="8.6"/>
<polyline points="559.3,683.1 559.3,716.0" fill="none" stroke="#fff" stroke-opacity="0.206" stroke-width="4.8"/>
<polyline points="559.3,715.7 559.2,748.0 559.2,748.5" fill="none" stroke="#fff" stroke-opacity="0.056" stroke-width="8.6"/>
<polyline points="559.3,715.7 559.2,748.0 559.2,748.5" fill="none" stroke="#fff" stroke-opacity="0.186" stroke-width="4.8"/>
<polyline points="576.0,618.0 576.0,634.7" fill="none" stroke="#fff" stroke-opacity="0.077" stroke-width="8.6"/>
<polyline points="576.0,618.0 576.0,634.7" fill="none" stroke="#fff" stroke-opacity="0.256" stroke-width="4.8"/>
<polyline points="576.0,634.4 575.9,651.1" fill="none" stroke="#fff" stroke-opacity="0.067" stroke-width="8.6"/>
<polyline points="576.0,634.4 575.9,651.1" fill="none" stroke="#fff" stroke-opacity="0.223" stroke-width="4.8"/>
<polyline points="575.9,650.8 575.9,667.5" fill="none" stroke="#fff" stroke-opacity="0.056" stroke-width="8.6"/>
<polyline points="575.9,650.8 575.9,667.5" fill="none" stroke="#fff" stroke-opacity="0.187" stroke-width="4.8"/>
<polyline points="575.9,667.2 575.9,683.9" fill="none" stroke="#fff" stroke-opacity="0.142" stroke-width="4.8"/>
<polyline points="575.9,683.6 575.9,700.3" fill="none" stroke="#fff" stroke-opacity="0.098" stroke-width="4.8"/>
<polyline points="592.6,618.0 592.5,634.0" fill="none" stroke="#fff" stroke-opacity="0.136" stroke-width="8.6"/>
<polyline points="592.6,618.0 592.5,634.0" fill="none" stroke="#fff" stroke-opacity="0.452" stroke-width="4.8"/>
<polyline points="592.5,634.0 592.5,646.5" fill="none" stroke="#fff" stroke-opacity="0.082" stroke-width="8.6"/>
<polyline points="592.5,634.0 592.5,646.5" fill="none" stroke="#fff" stroke-opacity="0.272" stroke-width="4.8"/>
<polyline points="592.5,646.2 592.5,658.7" fill="none" stroke="#fff" stroke-opacity="0.071" stroke-width="8.6"/>
<polyline points="592.5,646.2 592.5,658.7" fill="none" stroke="#fff" stroke-opacity="0.236" stroke-width="4.8"/>
<polyline points="592.5,658.4 592.5,670.9" fill="none" stroke="#fff" stroke-opacity="0.060" stroke-width="8.6"/>
<polyline points="592.5,658.4 592.5,670.9" fill="none" stroke="#fff" stroke-opacity="0.200" stroke-width="4.8"/>
<polyline points="592.5,670.6 592.4,683.1" fill="none" stroke="#fff" stroke-opacity="0.045" stroke-width="8.6"/>
<polyline points="592.5,670.6 592.4,683.1" fill="none" stroke="#fff" stroke-opacity="0.150" stroke-width="4.8"/>
<polyline points="592.5,682.8 592.4,695.3" fill="none" stroke="#fff" stroke-opacity="0.100" stroke-width="4.8"/>
<polyline points="609.1,618.0 609.1,630.6" fill="none" stroke="#fff" stroke-opacity="0.108" stroke-width="4.8"/>
<polyline points="609.1,630.3 609.1,643.0" fill="none" stroke="#fff" stroke-opacity="0.075" stroke-width="4.8"/>
<polyline points="609.1,642.7 609.1,655.3" fill="none" stroke="#fff" stroke-opacity="0.042" stroke-width="4.8"/>
<polyline points="625.7,618.0 625.7,632.0" fill="none" stroke="#fff" stroke-opacity="0.053" stroke-width="8.0"/>
<polyline points="625.7,618.0 625.7,632.0" fill="none" stroke="#fff" stroke-opacity="0.175" stroke-width="4.2"/>
<polyline points="625.7,632.0 625.6,655.0" fill="none" stroke="#fff" stroke-opacity="0.088" stroke-width="4.8"/>
<polyline points="625.6,654.7 625.6,677.6" fill="none" stroke="#fff" stroke-opacity="0.062" stroke-width="4.8"/>
<polyline points="625.6,677.3 625.6,700.3" fill="none" stroke="#fff" stroke-opacity="0.038" stroke-width="4.8"/>
<polyline points="642.3,618.0 642.2,645.6" fill="none" stroke="#fff" stroke-opacity="0.090" stroke-width="4.8"/>
<polyline points="642.2,645.3 642.2,673.0" fill="none" stroke="#fff" stroke-opacity="0.069" stroke-width="4.8"/>
<polyline points="642.2,672.7 642.1,700.3" fill="none" stroke="#fff" stroke-opacity="0.048" stroke-width="4.8"/>
<polyline points="658.8,618.0 658.8,634.0" fill="none" stroke="#fff" stroke-opacity="0.088" stroke-width="4.8"/>
<polyline points="658.8,633.7 658.8,649.6" fill="none" stroke="#fff" stroke-opacity="0.062" stroke-width="4.8"/>
<polyline points="658.8,649.3 658.8,665.3" fill="none" stroke="#fff" stroke-opacity="0.038" stroke-width="4.8"/>
<polyline points="476.5,618.0 476.5,640.0" fill="none" stroke="#fff" stroke-opacity="0.075" stroke-width="4.2"/>
<polyline points="493.1,618.0 493.1,636.0" fill="none" stroke="#fff" stroke-opacity="0.053" stroke-width="8.0"/>
<polyline points="493.1,618.0 493.1,636.0" fill="none" stroke="#fff" stroke-opacity="0.175" stroke-width="4.2"/>
<polyline points="509.7,618.0 509.7,633.0" fill="none" stroke="#fff" stroke-opacity="0.060" stroke-width="8.0"/>
<polyline points="509.7,618.0 509.7,633.0" fill="none" stroke="#fff" stroke-opacity="0.200" stroke-width="4.2"/>
<polyline points="542.8,618.0 542.6,748.0 542.6,748.2" fill="none" stroke="#fff" stroke-opacity="0.088" stroke-width="4.2"/>
<polyline points="460.0,618.0 459.9,636.0" fill="none" stroke="#fff" stroke-opacity="0.100" stroke-width="4.2"/>
<polyline points="443.4,618.0 443.4,632.0" fill="none" stroke="#fff" stroke-opacity="0.100" stroke-width="4.2"/>
<polyline points="310.8,618.0 310.8,640.0" fill="none" stroke="#fff" stroke-opacity="0.075" stroke-width="4.2"/>
<polyline points="261.1,618.0 261.1,640.0" fill="none" stroke="#fff" stroke-opacity="0.062" stroke-width="4.2"/>
<polyline points="642.1,715.0 642.1,748.0 642.1,748.2" fill="none" stroke="#fff" stroke-opacity="0.125" stroke-width="4.2"/>
<polyline points="559.2,748.2 558.6,759.0 558.4,759.2" fill="none" stroke="#fff" stroke-opacity="0.129" stroke-width="5.6"/>
<polyline points="558.4,759.2 557.7,760.0 557.7,963.0 557.7,963.6" fill="none" stroke="#fff" stroke-opacity="0.064" stroke-width="9.399999999999999"/>
<polyline points="558.4,759.2 557.7,760.0 557.7,963.0 557.7,963.6" fill="none" stroke="#fff" stroke-opacity="0.214" stroke-width="5.6"/>
<polyline points="575.8,748.2 575.2,759.0 575.0,759.2" fill="none" stroke="#fff" stroke-opacity="0.129" stroke-width="4.2"/>
<polyline points="625.5,748.2 624.9,759.0 624.7,759.2" fill="none" stroke="#fff" stroke-opacity="0.056" stroke-width="8.0"/>
<polyline points="625.5,748.2 624.9,759.0 624.7,759.2" fill="none" stroke="#fff" stroke-opacity="0.186" stroke-width="4.2"/>
<polyline points="642.1,748.2 641.4,759.0 641.2,759.2" fill="none" stroke="#fff" stroke-opacity="0.081" stroke-width="8.399999999999999"/>
<polyline points="642.1,748.2 641.4,759.0 641.2,759.2" fill="none" stroke="#fff" stroke-opacity="0.270" stroke-width="4.6"/>
<polyline points="575.0,759.2 574.2,760.0 574.2,963.0 574.2,963.6" fill="none" stroke="#fff" stroke-opacity="0.129" stroke-width="4.2"/>
<polyline points="624.7,759.2 623.9,760.0 623.9,963.0 623.9,963.6" fill="none" stroke="#fff" stroke-opacity="0.056" stroke-width="8.0"/>
<polyline points="624.7,759.2 623.9,760.0 623.9,963.0 623.9,963.6" fill="none" stroke="#fff" stroke-opacity="0.186" stroke-width="4.2"/>
<polyline points="641.2,759.2 640.5,760.0 640.5,963.0 640.5,963.6" fill="none" stroke="#fff" stroke-opacity="0.081" stroke-width="8.399999999999999"/>
<polyline points="641.2,759.2 640.5,760.0 640.5,963.0 640.5,963.6" fill="none" stroke="#fff" stroke-opacity="0.270" stroke-width="4.6"/>
<polyline points="574.2,935.0 574.2,963.0 574.2,963.6" fill="none" stroke="#fff" stroke-opacity="0.073" stroke-width="8.0"/>
<polyline points="574.2,935.0 574.2,963.0 574.2,963.6" fill="none" stroke="#fff" stroke-opacity="0.242" stroke-width="4.2"/>
<polyline points="557.7,925.0 557.7,963.0 557.7,963.6" fill="none" stroke="#fff" stroke-opacity="0.139" stroke-width="4.2"/>
<polyline points="558.4,759.2 557.7,760.0 557.7,800.0" fill="none" stroke="#fff" stroke-opacity="0.086" stroke-width="4.2"/>
<polyline points="756.4,778.0 756.4,875.0" fill="none" stroke="#fff" stroke-opacity="0.071" stroke-width="8.0"/>
<polyline points="756.4,778.0 756.4,875.0" fill="none" stroke="#fff" stroke-opacity="0.235" stroke-width="4.2"/>
<polyline points="773.0,778.0 773.0,870.0" fill="none" stroke="#fff" stroke-opacity="0.059" stroke-width="4.2"/>
<polyline points="806.1,778.0 806.1,870.0" fill="none" stroke="#fff" stroke-opacity="0.074" stroke-width="4.2"/>
<polyline points="789.6,778.0 789.6,870.0" fill="none" stroke="#fff" stroke-opacity="0.044" stroke-width="4.2"/>
<polyline points="375.5,762.0 375.5,900.0" fill="none" stroke="#fff" stroke-opacity="0.057" stroke-width="4.2"/>
<polyline points="325.8,762.0 325.8,900.0" fill="none" stroke="#fff" stroke-opacity="0.043" stroke-width="4.2"/>
<polyline points="474.9,762.0 474.9,900.0" fill="none" stroke="#fff" stroke-opacity="0.057" stroke-width="4.2"/>
<rect x="575" y="917" width="19" height="1.2" fill="#fff" fill-opacity="0.6"/>
<rect x="575" y="917.2" width="9" height="0.9" fill="#fff" fill-opacity="0.6"/>
<rect x="400" y="246.9" width="148" height="1.2" fill="#fff" fill-opacity="0.1"/>
<rect x="395" y="335.4" width="160" height="1.2" fill="#fff" fill-opacity="0.1"/>
<rect x="400" y="390.4" width="135" height="1.2" fill="#fff" fill-opacity="0.1"/>
<rect x="430" y="283.4" width="90" height="1.2" fill="#fff" fill-opacity="0.05"/>
<rect x="420" y="429.4" width="110" height="1.2" fill="#fff" fill-opacity="0.06"/>
<rect x="440" y="451.4" width="80" height="1.2" fill="#fff" fill-opacity="0.05"/>
</g>
<clipPath id="injclip"><rect x="173" y="759.2" width="800" height="204.4"/></clipPath>
<g clip-path="url(#injclip)"><rect x="300" y="750" width="440" height="140" fill="#a9a9a9" fill-opacity="0.34" filter="url(#bl20)"/></g>
<g filter="url(#streak)" style="mix-blend-mode:hard-light">
<rect x="173" y="61" width="1" height="1" fill="#fff" fill-opacity="0.004"/>
<rect x="230" y="760" width="741" height="140" fill="#fff" fill-opacity="0.1" filter="url(#bl20)"/>
<rect x="330" y="765" width="390" height="115" fill="#fff" fill-opacity="0.06" filter="url(#bl20)"/>
<rect x="173" y="748.5" width="798" height="214.5" fill="#fff" fill-opacity="0.05"/>
<rect x="330" y="722" width="320" height="26" fill="#fff" fill-opacity="0.22" filter="url(#bl8)"/>
</g>
</g></g>
<line x1="173.5" x2="971.5" y1="505.4" y2="505.4" stroke="#000" stroke-width="2.8"/>
<text class="e" transform="translate(173.10,505.70) scale(1.02,1.07)" text-anchor="start">STABLE</text>
<line x1="173.5" x2="971.5" y1="546.2" y2="546.2" stroke="#000" stroke-width="2.8"/>
<text class="e" transform="translate(173.10,546.50) scale(1.02,1.07)" text-anchor="start">ADJUST</text>
<line x1="173.5" x2="971.5" y1="618.0" y2="618.0" stroke="#000" stroke-width="2.8"/>
<text class="e" transform="translate(173.10,618.30) scale(1.02,1.07)" text-anchor="start">FLATTOP</text>
<line x1="173.5" x2="971.5" y1="748.2" y2="748.2" stroke="#000" stroke-width="2.8"/>
<text class="e" transform="translate(173.10,748.50) scale(1.02,1.07)" text-anchor="start">RAMP</text>
<line x1="173.5" x2="971.5" y1="759.2" y2="759.2" stroke="#000" stroke-width="2.8"/>
<text class="e" transform="translate(173.10,759.50) scale(1.02,1.07)" text-anchor="start">PRERAMP</text>
<line x1="173.5" x2="971.5" y1="975.3" y2="975.3" stroke="#000" stroke-width="2.8"/>
<text class="e" transform="translate(173.10,975.60) scale(1.02,1.07)" text-anchor="start">INJPHYS</text>
<rect x="173.5" y="61.5" width="798.0" height="914.8" fill="none" stroke="#000" stroke-width="1.05"/>
<line x1="168.1" x2="173.5" y1="74.30" y2="74.30" stroke="#000" stroke-width="1.05"/>
<text class="t" transform="translate(163.30,83.20) scale(0.99,1.04)" text-anchor="end">21:15:00</text>
<line x1="168.1" x2="173.5" y1="165.87" y2="165.87" stroke="#000" stroke-width="1.05"/>
<text class="t" transform="translate(163.30,174.77) scale(0.99,1.04)" text-anchor="end">21:00:00</text>
<line x1="168.1" x2="173.5" y1="257.43" y2="257.43" stroke="#000" stroke-width="1.05"/>
<text class="t" transform="translate(163.30,266.33) scale(0.99,1.04)" text-anchor="end">20:45:00</text>
<line x1="168.1" x2="173.5" y1="349.00" y2="349.00" stroke="#000" stroke-width="1.05"/>
<text class="t" transform="translate(163.30,357.90) scale(0.99,1.04)" text-anchor="end">20:30:00</text>
<line x1="168.1" x2="173.5" y1="440.57" y2="440.57" stroke="#000" stroke-width="1.05"/>
<text class="t" transform="translate(163.30,449.47) scale(0.99,1.04)" text-anchor="end">20:15:00</text>
<line x1="168.1" x2="173.5" y1="532.13" y2="532.13" stroke="#000" stroke-width="1.05"/>
<text class="t" transform="translate(163.30,541.03) scale(0.99,1.04)" text-anchor="end">20:00:00</text>
<line x1="168.1" x2="173.5" y1="623.70" y2="623.70" stroke="#000" stroke-width="1.05"/>
<text class="t" transform="translate(163.30,632.60) scale(0.99,1.04)" text-anchor="end">19:45:00</text>
<line x1="168.1" x2="173.5" y1="715.27" y2="715.27" stroke="#000" stroke-width="1.05"/>
<text class="t" transform="translate(163.30,724.17) scale(0.99,1.04)" text-anchor="end">19:30:00</text>
<line x1="168.1" x2="173.5" y1="806.84" y2="806.84" stroke="#000" stroke-width="1.05"/>
<text class="t" transform="translate(163.30,815.74) scale(0.99,1.04)" text-anchor="end">19:15:00</text>
<line x1="168.1" x2="173.5" y1="898.40" y2="898.40" stroke="#000" stroke-width="1.05"/>
<text class="t" transform="translate(163.30,907.30) scale(0.99,1.04)" text-anchor="end">19:00:00</text>
<line x1="227.5" x2="227.5" y1="976.3" y2="981.6999999999999" stroke="#000" stroke-width="1.05"/>
<text class="t" transform="translate(224.10,1002.80) rotate(-30) scale(0.99,1.04)" text-anchor="end">7000</text>
<line x1="393.5" x2="393.5" y1="976.3" y2="981.6999999999999" stroke="#000" stroke-width="1.05"/>
<text class="t" transform="translate(390.10,1002.80) rotate(-30) scale(0.99,1.04)" text-anchor="end">7500</text>
<line x1="559.5" x2="559.5" y1="976.3" y2="981.6999999999999" stroke="#000" stroke-width="1.05"/>
<text class="t" transform="translate(556.10,1002.80) rotate(-30) scale(0.99,1.04)" text-anchor="end">8000</text>
<line x1="725.5" x2="725.5" y1="976.3" y2="981.6999999999999" stroke="#000" stroke-width="1.05"/>
<text class="t" transform="translate(722.10,1002.80) rotate(-30) scale(0.99,1.04)" text-anchor="end">8500</text>
<line x1="891.5" x2="891.5" y1="976.3" y2="981.6999999999999" stroke="#000" stroke-width="1.05"/>
<text class="t" transform="translate(888.10,1002.80) rotate(-30) scale(0.99,1.04)" text-anchor="end">9000</text>
<text class="l" transform="translate(571.70,52.60) scale(0.995,1.03)" text-anchor="middle">Fill 11181, B2 hor</text>
<text class="l" transform="translate(571.20,1063.80) scale(0.995,1.03)" text-anchor="middle">f (Hz)</text>
<text class="l" transform="translate(51.20,520.30) rotate(-90) scale(0.982,1.04)" text-anchor="middle">UTC time 13/10/2025</text>
<rect x="1020.5" y="61.5" width="46.0" height="914.8" fill="url(#cb)" stroke="#000" stroke-width="1.05"/>
<line x1="1066.5" x2="1071.9" y1="131.5" y2="131.5" stroke="#000" stroke-width="1.05"/>
<text class="t" transform="translate(1077.60,140.38) scale(0.99,1.04)" text-anchor="start" dx="0 2.3" dy="2.4 -2.4">−80</text>
<rect x="1078.8" y="132.2" width="15.3" height="1.7" fill="#000"/>
<line x1="1066.5" x2="1071.9" y1="272.3" y2="272.3" stroke="#000" stroke-width="1.05"/>
<text class="t" transform="translate(1077.60,281.20) scale(0.99,1.04)" text-anchor="start" dx="0 2.3" dy="2.4 -2.4">−100</text>
<rect x="1078.8" y="273.0" width="15.3" height="1.7" fill="#000"/>
<line x1="1066.5" x2="1071.9" y1="413.1" y2="413.1" stroke="#000" stroke-width="1.05"/>
<text class="t" transform="translate(1077.60,422.02) scale(0.99,1.04)" text-anchor="start" dx="0 2.3" dy="2.4 -2.4">−120</text>
<rect x="1078.8" y="413.8" width="15.3" height="1.7" fill="#000"/>
<line x1="1066.5" x2="1071.9" y1="553.9" y2="553.9" stroke="#000" stroke-width="1.05"/>
<text class="t" transform="translate(1077.60,562.84) scale(0.99,1.04)" text-anchor="start" dx="0 2.3" dy="2.4 -2.4">−140</text>
<rect x="1078.8" y="554.6" width="15.3" height="1.7" fill="#000"/>
<line x1="1066.5" x2="1071.9" y1="694.8" y2="694.8" stroke="#000" stroke-width="1.05"/>
<text class="t" transform="translate(1077.60,703.66) scale(0.99,1.04)" text-anchor="start" dx="0 2.3" dy="2.4 -2.4">−160</text>
<rect x="1078.8" y="695.5" width="15.3" height="1.7" fill="#000"/>
<line x1="1066.5" x2="1071.9" y1="835.6" y2="835.6" stroke="#000" stroke-width="1.05"/>
<text class="t" transform="translate(1077.60,844.48) scale(0.99,1.04)" text-anchor="start" dx="0 2.3" dy="2.4 -2.4">−180</text>
<rect x="1078.8" y="836.3" width="15.3" height="1.7" fill="#000"/>
<line x1="1066.5" x2="1071.9" y1="976.4" y2="976.4" stroke="#000" stroke-width="1.05"/>
<text class="t" transform="translate(1077.60,985.30) scale(0.99,1.04)" text-anchor="start" dx="0 2.3" dy="2.4 -2.4">−200</text>
<rect x="1078.8" y="977.1" width="15.3" height="1.7" fill="#000"/>
</svg></body></html>
